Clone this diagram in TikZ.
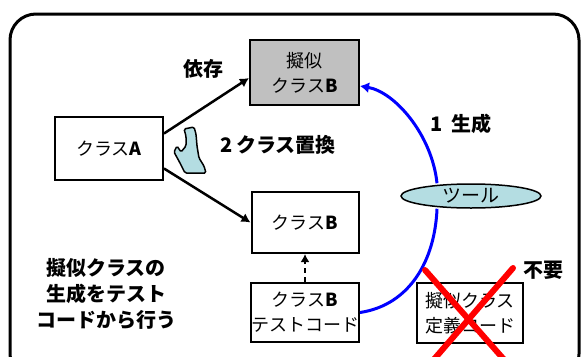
\documentclass[tikz,border=0pt]{standalone}
\usepackage{fontspec}
\setmainfont{Noto Sans CJK JP}
\usetikzlibrary{shapes.geometric,arrows.meta}
\definecolor{boxgray}{HTML}{C0C0C0}
\definecolor{toolcyan}{HTML}{B4DDE2}
\definecolor{flowblue}{HTML}{0000FF}
\definecolor{crossred}{HTML}{FF0000}
\tikzset{
  classbox/.style={draw=black, line width=2pt, fill=white, minimum width=107pt, minimum height=61pt, inner sep=0pt, align=center, font=\fontsize{18}{25}\selectfont},
  lbl/.style={font=\fontsize{20}{25}\selectfont\bfseries, inner sep=0pt, align=center},
  deparrow/.style={line width=2.5pt, -{Latex[length=9pt,width=10pt]}},
  genline/.style={draw=flowblue, line width=3pt},
}
\begin{document}
\begin{tikzpicture}[x=1pt,y=-1pt]
\useasboundingbox (0,0) rectangle (583,356);
\clip (0,0) rectangle (583,356);
% outer frame
\draw[line width=3pt, rounded corners=26pt] (10,14) rectangle (579,380);
% boxes
\node[classbox, fill=boxgray, minimum width=109pt, minimum height=65pt] (pB) at (304.5,72.5) {擬似\\クラス\textbf{B}};
\node[classbox, minimum width=108pt, minimum height=63pt] (A) at (109,148.5) {クラス\textbf{A}};
\node[classbox] (B) at (305,222.5) {クラス\textbf{B}};
\node[classbox, minimum height=59pt] (T) at (305,312.5) {クラス\textbf{B}\\テストコード};
\node[classbox, minimum width=106pt, minimum height=60pt] (D) at (470,313) {擬似クラス\\定義コード};
\node[draw=black, line width=1.5pt, fill=toolcyan, ellipse, minimum width=140pt, minimum height=24pt, inner sep=0pt, font=\fontsize{19}{20}\selectfont] (tool) at (471,196) {ツール};
% dependency arrows
\draw[deparrow] ([yshift=15pt]A.east) -- ([yshift=-5.5pt]pB.west);
\draw[deparrow] ([yshift=-20pt]A.east) -- (B.west);
\draw[line width=2.5pt, dash pattern=on 5pt off 4pt, -{Latex[length=8pt,width=9pt]}] (T.north) -- (B.south);
% generation curve
\draw[genline, -{Latex[length=9pt,width=11pt]}] ([xshift=-34pt]tool.north) .. controls (432,135) and (395,92) .. ([yshift=-13.5pt]pB.east);
\draw[genline] ([xshift=-34pt]tool.south) .. controls (435,260) and (410,305) .. (T.east);
% replacement blob
\draw[line width=1.5pt, fill=toolcyan, rounded corners=1.5pt] (184,129) -- (194,127) -- (196,134) -- (197,146) -- (199,158) -- (204,166) -- (206,173) -- (185,173) -- (180,163) -- (174,152) -- (177,146) -- (181,152) -- (186,146) -- (186,136) -- cycle;
% red cross
\draw[crossred, line width=6pt, line cap=round] (425,270) -- (515,372);
\draw[crossred, line width=6pt, line cap=round] (513,268) -- (423,372);
% labels
\node[lbl] (dep) at (203,69) {依存};
\node[lbl] (gen) at (461,124) {1\hspace{8pt}生成};
\node[lbl] (rep) at (278,145) {2\hspace{4pt}クラス置換};
\node[lbl] (unn) at (543,270) {不要};
\node[lbl, font=\fontsize{20}{26}\selectfont\bfseries] (note) at (106,294) {擬似クラスの\\生成をテスト\\コードから行う};
\end{tikzpicture}
\end{document}
